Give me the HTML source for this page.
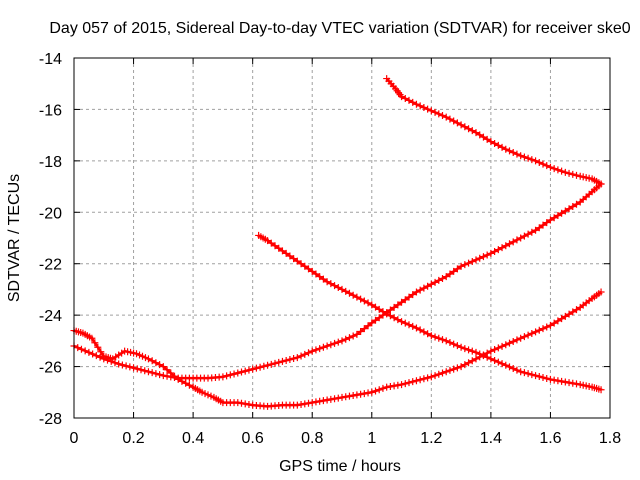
<!DOCTYPE html>
<html><head><meta charset="utf-8"><style>
body{margin:0;background:#fff;}
svg{display:block;font-family:"Liberation Sans",sans-serif;}
</style></head><body>
<svg width="640" height="480">
<text x="340" y="33" text-anchor="middle" font-size="16">Day 057 of 2015, Sidereal Day-to-day VTEC variation (SDTVAR) for receiver ske0</text>
<g id="grid"></g>
<g id="ticks"></g>
<g id="series"></g>
<rect x="74" y="58" width="536" height="360" fill="none" stroke="#000" stroke-width="1"/>
<text x="340" y="471" text-anchor="middle" font-size="16">GPS time / hours</text>
<text x="19" y="238" text-anchor="middle" font-size="16" transform="rotate(-90 19 238)">SDTVAR / TECUs</text>
</svg>
<script>
const xTicks=[0,0.2,0.4,0.6,0.8,1,1.2,1.4,1.6,1.8];
const xTickLabels=["0","0.2","0.4","0.6","0.8","1","1.2","1.4","1.6","1.8"];
const yTicks=[-14,-16,-18,-20,-22,-24,-26,-28];
const yTickLabels=["-14","-16","-18","-20","-22","-24","-26","-28"];
const xA=[0,0.03,0.06,0.1,0.13,0.17,0.21,0.25,0.3,0.35,0.4,0.43,0.47,0.5,0.55,0.6,0.65,0.7,0.75,0.8,0.85,0.9,0.95,1.0,1.05,1.1,1.15,1.2,1.25,1.3,1.35,1.4,1.45,1.5,1.55,1.6,1.65,1.7,1.74,1.77];
const yA=[-24.6,-24.7,-24.9,-25.6,-25.7,-25.4,-25.5,-25.7,-26.0,-26.5,-26.8,-27.0,-27.2,-27.4,-27.4,-27.5,-27.55,-27.5,-27.5,-27.4,-27.3,-27.2,-27.1,-27.0,-26.8,-26.7,-26.55,-26.4,-26.2,-26.0,-25.7,-25.4,-25.15,-24.9,-24.65,-24.4,-24.05,-23.7,-23.35,-23.1];
const xB=[0,0.05,0.1,0.15,0.2,0.25,0.3,0.35,0.4,0.45,0.5,0.55,0.6,0.65,0.7,0.75,0.8,0.85,0.9,0.95,1.0,1.05,1.1,1.15,1.2,1.25,1.3,1.35,1.4,1.45,1.5,1.55,1.6,1.65,1.7,1.74,1.77];
const yB=[-25.2,-25.45,-25.7,-25.9,-26.05,-26.2,-26.35,-26.45,-26.45,-26.45,-26.4,-26.25,-26.1,-25.95,-25.8,-25.65,-25.4,-25.2,-25.0,-24.75,-24.3,-23.9,-23.5,-23.1,-22.8,-22.5,-22.1,-21.85,-21.6,-21.3,-21.0,-20.7,-20.3,-19.95,-19.6,-19.2,-18.9];
const xC=[0.62,0.65,0.7,0.75,0.8,0.85,0.9,0.95,1.0,1.05,1.1,1.15,1.2,1.25,1.3,1.35,1.4,1.45,1.5,1.55,1.6,1.65,1.7,1.74,1.77];
const yC=[-20.9,-21.1,-21.5,-21.9,-22.3,-22.7,-23.0,-23.3,-23.6,-23.95,-24.25,-24.5,-24.8,-25.0,-25.25,-25.45,-25.7,-25.95,-26.2,-26.35,-26.5,-26.6,-26.7,-26.8,-26.9];
const xD=[1.05,1.08,1.1,1.15,1.2,1.25,1.3,1.35,1.4,1.45,1.5,1.55,1.6,1.65,1.7,1.74,1.77];
const yD=[-14.8,-15.2,-15.5,-15.8,-16.05,-16.3,-16.6,-16.9,-17.25,-17.55,-17.8,-18.0,-18.25,-18.45,-18.6,-18.7,-18.9];
const NS="http://www.w3.org/2000/svg";
const X0=74,X1=610,Y0=58,Y1=418;
function sx(v){return X0+(v-0)/(1.8-0)*(X1-X0);}
function sy(v){return Y0+(-14-v)/14*(Y1-Y0);}
function mk(t,a,p){const e=document.createElementNS(NS,t);for(const k in a)e.setAttribute(k,a[k]);p.appendChild(e);return e;}
const grid=document.getElementById('grid'),ticks=document.getElementById('ticks'),series=document.getElementById('series');
xTicks.forEach((v,i)=>{
 if(i>0&&i<xTicks.length-1){const g=mk('line',{x1:sx(v),x2:sx(v),y1:Y0,y2:Y1,stroke:'#a0a0a0','stroke-dasharray':'3,3'},grid);
 
 }
 mk('line',{x1:sx(v),x2:sx(v),y1:Y1,y2:Y1-6,stroke:'#000'},ticks);
 mk('line',{x1:sx(v),x2:sx(v),y1:Y0,y2:Y0+6,stroke:'#000'},ticks);
 const t=mk('text',{x:sx(v),y:Y1+25,'text-anchor':'middle','font-size':16},ticks);t.textContent=xTickLabels[i];
 
 
});
yTicks.forEach((v,i)=>{
 if(i>0&&i<yTicks.length-1){const g=mk('line',{x1:X0,x2:X1,y1:sy(v),y2:sy(v),stroke:'#a0a0a0','stroke-dasharray':'3,3'},grid);
 
 }
 mk('line',{x1:X0,x2:X0+6,y1:sy(v),y2:sy(v),stroke:'#000'},ticks);
 mk('line',{x1:X1,x2:X1-6,y1:sy(v),y2:sy(v),stroke:'#000'},ticks);
 const t=mk('text',{x:X0-12,y:sy(v)+6,'text-anchor':'end','font-size':16},ticks);t.textContent=yTickLabels[i];
 
 
});
function drawSeries(xs,ys,name){
 const g=mk('g',{},series);
 
 
 const pts=xs.map((x,i)=>sx(x)+','+sy(ys[i])).join(' ');
 mk('polyline',{points:pts,fill:'none',stroke:'#ff0000','stroke-width':2.5,'stroke-linejoin':'round'},g);
 let d='';
 for(let i=0;i<xs.length-1;i++){
  for(let k=0;k<4;k++){const f=k/4;const x=sx(xs[i]+(xs[i+1]-xs[i])*f),y=sy(ys[i]+(ys[i+1]-ys[i])*f);
   d+=`M${x-3.5},${y}h7M${x},${y-3.5}v7`;}
 }
 const x=sx(xs[xs.length-1]),y=sy(ys[ys.length-1]);d+=`M${x-3.5},${y}h7M${x},${y-3.5}v7`;
 mk('path',{d:d,stroke:'#ff0000','stroke-width':1.2,fill:'none'},g);
}
drawSeries(xA,yA,'series-a');
drawSeries(xB,yB,'series-b');
drawSeries(xC,yC,'series-c');
drawSeries(xD,yD,'series-d');
</script>
</body></html>
